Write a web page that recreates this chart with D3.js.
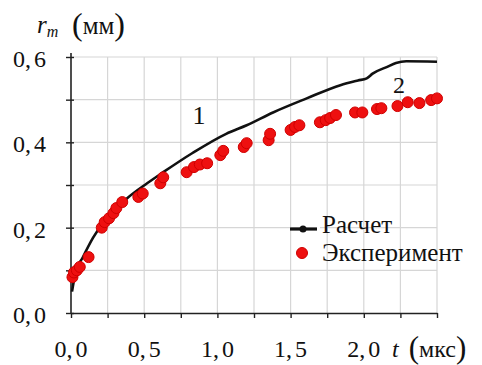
<!DOCTYPE html>
<html><head><meta charset="utf-8">
<script src="https://cdn.jsdelivr.net/npm/d3@7"></script>
<style>body{margin:0;background:#fff}svg{display:block}</style>
</head><body><svg id="c" width="482" height="365"></svg>
<script>
const calcT = [0.007,0.03,0.08,0.15,0.25,0.38,0.52,0.63,0.83,1.06,1.2,1.38,1.61,1.84,1.96,2.02,2.06,2.16,2.22,2.29,2.5];
const calcR = [0.05,0.094,0.13,0.176,0.225,0.268,0.304,0.33,0.375,0.42,0.44,0.47,0.503,0.534,0.545,0.55,0.561,0.577,0.586,0.59,0.589];
const expT = [0.01,0.02,0.04,0.06,0.12,0.21,0.23,0.26,0.29,0.31,0.35,0.46,0.49,0.61,0.63,0.79,0.84,0.88,0.93,1.02,1.04,1.18,1.2,1.35,1.36,1.5,1.53,1.56,1.7,1.74,1.77,1.81,1.94,1.99,2.09,2.12,2.23,2.3,2.38,2.46,2.5];
const expR = [0.084,0.095,0.1,0.108,0.131,0.2,0.213,0.222,0.234,0.246,0.26,0.272,0.28,0.304,0.318,0.33,0.342,0.348,0.351,0.37,0.38,0.389,0.398,0.405,0.42,0.429,0.436,0.44,0.447,0.452,0.457,0.464,0.47,0.47,0.478,0.48,0.485,0.494,0.492,0.499,0.503];
const xTickLabels = [0,0.5,1,1.5,2];
const yTickLabels = [0,0.2,0.4,0.6];
const seriesNames = ["Расчет","Эксперимент"];

const FONT = '"Liberation Serif"';
const svg = d3.select("#c");
const x = d3.scaleLinear().domain([0,2.5]).range([71,437]);
const y = d3.scaleLinear().domain([0,0.6]).range([313,57]);
const fmt = v => d3.format(".1f")(v).replace(".",",");
function txt(sel){ return sel.style("font-family",FONT).attr("fill","#111"); }

// grid
const g = svg.append("g");
g.selectAll(".vg").data(d3.range(1,11).map(i=>i*0.25)).enter().append("line")
 .attr("x1",d=>x(d)).attr("x2",d=>x(d)).attr("y1",y(0)).attr("y2",y(0.6))
 .attr("stroke","#d6d6d6").attr("stroke-width",1.2);
g.selectAll(".hg").data(d3.range(1,7).map(i=>i*0.1)).enter().append("line")
 .attr("x1",x(0)).attr("x2",x(2.5)).attr("y1",d=>y(d)).attr("y2",d=>y(d))
 .attr("stroke","#d6d6d6").attr("stroke-width",1.2);

// axes
const xa = svg.append("g").attr("transform",`translate(0,${y(0)})`)
 .call(d3.axisBottom(x).tickValues(d3.range(0,11).map(i=>i*0.25)).tickSize(5).tickSizeOuter(0).tickFormat(""));
const ya = svg.append("g").attr("transform",`translate(${x(0)},0)`)
 .call(d3.axisLeft(y).tickValues(d3.range(0,7).map(i=>i*0.1)).tickSize(5).tickSizeOuter(0).tickFormat(""));
[xa,ya].forEach(a=>{a.select(".domain").attr("stroke","#222").attr("stroke-width",1.6);
 a.selectAll(".tick line").attr("stroke","#222").attr("stroke-width",1.4);});
ya.selectAll(".tick line").attr("x2",3).attr("x1",-5);
ya.select(".domain").attr("d",`M0,${y(0)}V${y(0.6)-4}`);

// tick labels
function numLabel(sel){
  sel.each(function(d){
    const s = fmt(d).split(",");
    const t = d3.select(this);
    t.append("tspan").text(s[0]+",");
    t.append("tspan").attr("dx",3).text(s[1]);
  });
}
svg.selectAll(".xl").data(xTickLabels).enter().append("text")
 .attr("x",d=>x(d)).attr("y",357).attr("text-anchor","middle").attr("font-size",24).call(txt).call(numLabel);
svg.selectAll(".yl").data(yTickLabels).enter().append("text")
 .attr("x",46).attr("y",d=>y(d)+10).attr("text-anchor","end").attr("font-size",24).call(txt).call(numLabel);

// axis titles
const yt = svg.append("text").attr("x",37).attr("y",33).attr("font-size",25).call(txt);
yt.append("tspan").attr("font-style","italic").text("r");
yt.append("tspan").attr("font-style","italic").attr("font-size",16).attr("dy",4).text("m");
const yt2 = svg.append("text").attr("x",72).attr("y",34).attr("font-size",25).call(txt);
yt2.append("tspan").attr("font-size",32).attr("dy",1).text("(");
yt2.append("tspan").attr("dy",-1).text("мм");
yt2.append("tspan").attr("font-size",32).attr("dy",1).text(")");
const xt = svg.append("text").attr("x",392).attr("y",357).attr("font-size",24).call(txt);
xt.append("tspan").attr("font-style","italic").text("t");
xt.append("tspan").attr("dx",10).attr("font-size",31).attr("dy",1).text("(");
xt.append("tspan").attr("dy",-1).text("мкс");
xt.append("tspan").attr("font-size",31).attr("dy",1).text(")");

// calc line
const calc = calcT.map((t,i)=>[t,calcR[i]]);
svg.append("path").datum(calc)
 .attr("d",d3.line().x(d=>x(d[0])).y(d=>y(d[1])).curve(d3.curveMonotoneX))
 .attr("fill","none").attr("stroke","#111").attr("stroke-width",2.6);

// exp points
const exp = expT.map((t,i)=>[t,expR[i]]);
svg.selectAll(".pt").data(exp).enter().append("circle")
 .attr("cx",d=>x(d[0])).attr("cy",d=>y(d[1])).attr("r",5.5)
 .attr("fill","#ee1010").attr("stroke","#d00000").attr("stroke-width",1);

// curve labels
svg.append("text").attr("x",199).attr("y",124).attr("text-anchor","middle").attr("font-size",26).call(txt).text("1");
svg.append("text").attr("x",399).attr("y",93).attr("text-anchor","middle").attr("font-size",24).call(txt).text("2");

// legend
const lg = svg.append("g");
lg.append("rect").attr("x",300).attr("y",214).attr("width",20).attr("height",22).attr("fill","#fff");
lg.append("line").attr("x1",290).attr("x2",317).attr("y1",229).attr("y2",229).attr("stroke","#111").attr("stroke-width",3.2);
lg.append("circle").attr("cx",303).attr("cy",229).attr("r",3.5).attr("fill","#111");
lg.append("circle").attr("cx",302).attr("cy",253).attr("r",5.5).attr("fill","#ee1010").attr("stroke","#d00000");
lg.selectAll(".lt").data(seriesNames).enter().append("text")
 .attr("x",322).attr("y",(d,i)=>233+i*28).attr("font-size",25).call(txt).text(d=>d);
</script></body></html>
